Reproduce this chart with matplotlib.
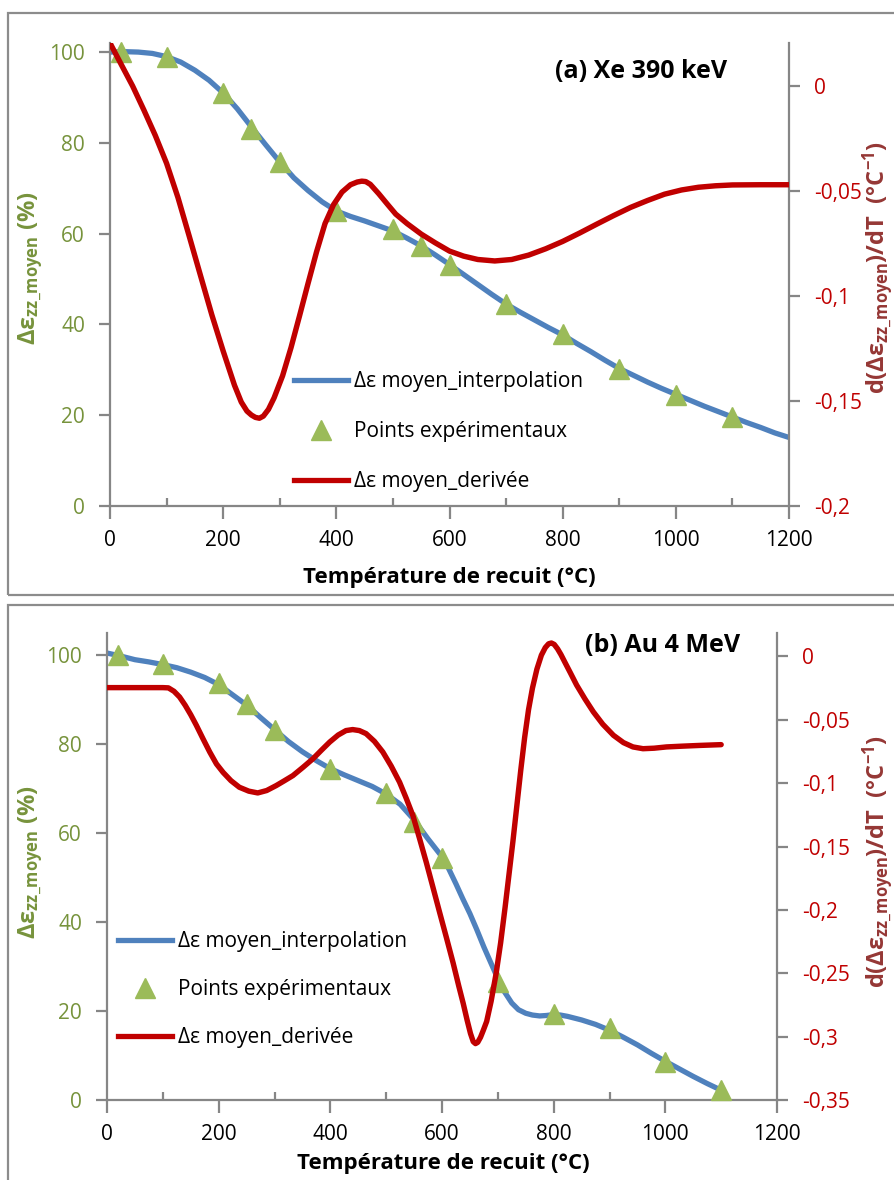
import matplotlib
matplotlib.use("Agg")
import matplotlib.pyplot as plt
from matplotlib.patches import Rectangle
from matplotlib.ticker import FixedLocator, MultipleLocator
from matplotlib.lines import Line2D

plt.rcParams['font.family'] = ['Open Sans', 'DejaVu Sans']
plt.rcParams['mathtext.fontset'] = 'custom'
plt.rcParams['mathtext.rm'] = 'Open Sans'
plt.rcParams['mathtext.bf'] = 'Open Sans:bold'
plt.rcParams['mathtext.it'] = 'Open Sans:italic'

# ---- (a) Xe 390 keV ----
T_exp_a = [20, 100, 200, 250, 300, 400, 500, 550, 600, 700, 800, 900, 1000, 1100]
eps_exp_a = [100, 99, 91, 83, 75.8, 65, 61, 57.2, 53.1, 44.4, 37.8, 30.2, 24.5, 19.7]
T_fit_a = [0, 25, 50, 75, 100, 125, 150, 175, 200, 225, 250, 275, 300, 325, 350, 375, 400,
           425, 450, 475, 500, 525, 550, 575, 600, 625, 650, 675, 700, 725, 750, 775, 800,
           825, 850, 875, 900, 925, 950, 975, 1000, 1025, 1050, 1075, 1100, 1125, 1150, 1175, 1200]
eps_fit_a = [100, 100.1, 100, 99.7, 99, 97.8, 96, 93.8, 91, 87.5, 83.5, 79.6, 75.8, 72.3, 69.5, 67, 65,
             63.8, 62.8, 61.7, 60.6, 59, 57.3, 55.3, 53.2, 51, 48.8, 46.6, 44.5, 42.7, 41, 39.3, 37.7,
             35.8, 34, 32.1, 30.3, 28.8, 27.3, 25.9, 24.6, 23.3, 22, 20.8, 19.6, 18.4, 17.3, 16.1, 15.1]
T_der_a = [0, 20, 40, 60, 80, 100, 120, 140, 160, 180, 200, 220, 232, 242, 250, 257, 264, 271,
           280, 290, 305, 320, 335, 350, 365, 380, 395, 410, 425, 437, 445, 452, 460, 475, 490,
           505, 525, 550, 575, 600, 625, 650, 680, 710, 740, 770, 800, 830, 860, 890, 920, 950,
           980, 1010, 1040, 1070, 1100, 1150, 1200]
der_a = [0.0205, 0.0102, 0.0, -0.0115, -0.0235, -0.0368, -0.053, -0.0715, -0.0903, -0.109,
         -0.1262, -0.1425, -0.1505, -0.1548, -0.1567, -0.1578, -0.1582, -0.1572, -0.154, -0.1485,
         -0.138, -0.1245, -0.1094, -0.094, -0.079, -0.0655, -0.0565, -0.0505, -0.047, -0.0457,
         -0.0453, -0.0455, -0.0468, -0.0513, -0.0562, -0.061, -0.0655, -0.0705, -0.0747, -0.0786,
         -0.081, -0.0826, -0.0833, -0.0826, -0.0805, -0.0775, -0.074, -0.070, -0.0658, -0.0617,
         -0.0578, -0.0545, -0.0515, -0.0495, -0.0482, -0.0475, -0.0471, -0.047, -0.047]

# ---- (b) Au 4 MeV ----
T_exp_b = [20, 100, 200, 250, 300, 400, 500, 550, 600, 700, 800, 900, 1000, 1100]
eps_exp_b = [100, 98, 93.7, 89, 83.2, 74.4, 69, 62.5, 54.5, 26.6, 19.3, 16.1, 8.6, 2.2]
T_fit_b = [0, 25, 50, 75, 100, 125, 150, 175, 200, 225, 250, 275, 300, 325, 350, 375, 400,
           425, 450, 475, 500, 525, 550, 575, 600, 612, 625, 637, 650, 662, 675, 688, 700,
           712, 725, 737, 750, 762, 775, 787, 800, 812, 825, 850, 875, 900, 925, 950, 975,
           1000, 1025, 1050, 1075, 1100]
eps_fit_b = [100.5, 99.8, 99.0, 98.5, 97.9, 97.2, 96.2, 95.0, 93.4, 91.1, 88.8, 86.0, 83.3,
             80.6, 78.3, 76.3, 74.5, 73.1, 71.8, 70.5, 68.8, 66.5, 63.0, 58.7, 54.7, 52.0,
             48.6, 45.3, 41.9, 38.4, 34.4, 30.7, 27.3, 24.3, 21.8, 20.3, 19.5, 19.1, 18.9,
             19.0, 19.2, 19.1, 18.8, 18.0, 17.0, 15.7, 14.1, 12.4, 10.5, 8.7, 7.0, 5.3, 3.7, 2.2]
T_der_b = [0, 100, 110, 120, 130, 140, 150, 160, 172, 184, 196, 208, 222, 237, 254, 270, 286,
           303, 318, 333, 351, 369, 384, 399, 414, 428, 440, 452, 464, 479, 494, 509, 524, 536,
           548, 560, 572, 584, 596, 608, 620, 630, 638, 645, 651, 656, 660, 664, 669, 674, 680,
           688, 697, 705, 713, 720, 727, 734, 741, 748, 755, 762, 770, 778, 785, 791, 796, 801,
           807, 813, 820, 830, 841, 856, 871, 888, 907, 925, 942, 960, 980, 1002, 1030, 1062, 1100]
der_b = [-0.0246, -0.0246, -0.0248, -0.0275, -0.032, -0.0385, -0.046, -0.0543, -0.065, -0.0754,
         -0.0848, -0.0915, -0.098, -0.1032, -0.1063, -0.1077, -0.1058, -0.1019, -0.098, -0.094,
         -0.0875, -0.0807, -0.074, -0.0675, -0.062, -0.0585, -0.0577, -0.0585, -0.0609, -0.067,
         -0.0754, -0.0865, -0.0992, -0.112, -0.1257, -0.144, -0.1627, -0.1825, -0.2024, -0.222,
         -0.242, -0.260, -0.2738, -0.287, -0.2975, -0.304, -0.3055, -0.3045, -0.3005, -0.295,
         -0.288, -0.272, -0.250, -0.226, -0.198, -0.172, -0.146, -0.118, -0.090, -0.064, -0.042,
         -0.025, -0.010, 0.001, 0.007, 0.010, 0.0106, 0.0095, 0.006, 0.0015, -0.0045, -0.013,
         -0.0225, -0.0335, -0.0437, -0.0535, -0.0622, -0.068, -0.0714, -0.0728, -0.0724, -0.0714,
         -0.0708, -0.0702, -0.0696]

x_ticks = [0, 200, 400, 600, 800, 1000, 1200]
left_ticks = [0, 20, 40, 60, 80, 100]
right_ticks_a = [0, -0.05, -0.1, -0.15, -0.2]
right_ticks_b = [0, -0.05, -0.1, -0.15, -0.2, -0.25, -0.3, -0.35]

BLUE, RED, GREEN = "#4f81bd", "#c00000", "#9bbb59"
LGREEN, DRED, GREY = "#77933c", "#953735", "#868686"
W, H = 894, 1180
FS = 15


def fx(px): return px / W
def fy(py): return 1 - py / H


def comma(v):
    s = f"{v:g}"
    return "0" if s in ("0", "-0") else s.replace(".", ",")


def panel(box, T_fit, eps_fit, T_exp, eps_exp, T_der, der, ymax, rlim, rticks, tag, tag_xy, leg_xy, lsp):
    l, t, r, b = box
    ax = fig.add_axes([fx(l), fy(b), (r - l) / W, (b - t) / H])
    ax.plot(T_fit, eps_fit, color=BLUE, lw=3.8, solid_joinstyle="round", zorder=2)
    ax.plot(T_exp, eps_exp, ls="none", marker="^", ms=15, color=GREEN, mec=GREEN, zorder=3, clip_on=False)
    ax.set_xlim(0, 1200); ax.set_ylim(0, ymax)
    ax2 = ax.twinx()
    ax2.plot(T_der, der, color=RED, lw=3.9, solid_joinstyle="round", solid_capstyle="round", zorder=4)
    ax2.set_ylim(*rlim)
    for a in (ax, ax2):
        for s in a.spines.values():
            s.set_color(GREY); s.set_linewidth(1.6)
        a.spines["top"].set_visible(False)
        a.patch.set_visible(False)
    ax.spines["right"].set_visible(False)
    ax2.spines["left"].set_visible(False); ax2.spines["bottom"].set_visible(False)
    ax.xaxis.set_major_locator(FixedLocator(x_ticks))
    ax.xaxis.set_minor_locator(MultipleLocator(100))
    ax.tick_params(axis="x", which="major", direction="out", length=9, width=1.6, color=GREY,
                   labelsize=FS, pad=8)
    ax.tick_params(axis="x", which="minor", direction="in", length=6, width=1.6, color=GREY)
    ax.set_yticks(left_ticks)
    ax.tick_params(axis="y", direction="out", length=8, width=1.6, color=GREY, labelsize=FS,
                   labelcolor=LGREEN, pad=10)
    ax2.set_yticks(rticks)
    ax2.set_yticklabels([comma(v) for v in rticks])
    ax2.tick_params(axis="y", direction="out", length=8, width=1.6, color=GREY, labelsize=FS,
                    labelcolor=RED, pad=10)
    ax.text(*tag_xy, tag, transform=fig.transFigure, ha="center", va="center",
            fontsize=18, fontweight="bold")
    handles = [Line2D([], [], color=BLUE, lw=3.8),
               Line2D([], [], ls="none", marker="^", ms=15, color=GREEN),
               Line2D([], [], color=RED, lw=3.8)]
    labels = ["\u0394\u03b5 moyen_interpolation", "Points exp\u00e9rimentaux", "\u0394\u03b5 moyen_deriv\u00e9e"]
    ax2.legend(handles, labels, loc="upper left", bbox_to_anchor=leg_xy, bbox_transform=fig.transFigure,
               frameon=False, fontsize=FS, handlelength=2.6, handletextpad=0.3, labelspacing=lsp,
               borderpad=0, borderaxespad=0)
    return ax, ax2


fig = plt.figure(figsize=(W / 100, H / 100), dpi=100)

# panel frames
fig.patches.append(Rectangle((fx(8), fy(595)), (904 - 8) / W, (595 - 13) / H, transform=fig.transFigure,
                             fill=False, ec="#8c8c8c", lw=1.6))
fig.patches.append(Rectangle((fx(8), fy(1200)), (904 - 8) / W, (1200 - 605) / H, transform=fig.transFigure,
                             fill=False, ec="#8c8c8c", lw=1.6))

panel((110, 43, 789, 506), T_fit_a, eps_fit_a, T_exp_a, eps_exp_a, T_der_a, der_a, 102, (-0.2, 0.0205),
      right_ticks_a, "(a) Xe 390 keV", (fx(641), fy(72)), (fx(294), fy(371)), 1.4)
panel((107, 633, 777, 1100), T_fit_b, eps_fit_b, T_exp_b, eps_exp_b, T_der_b, der_b, 105, (-0.35, 0.0185),
      right_ticks_b, "(b) Au 4 MeV", (fx(663), fy(645)), (fx(118), fy(931)), 1.3)

ylab = "\u0394\u03b5$_{\\mathbf{zz\\_moyen}}$ (%)"
rlab = "d(\u0394\u03b5$_{\\mathbf{zz\\_moyen}}$)/dT  (\u00b0C$^{\\mathbf{-1}}$)"
xlab = "Temp\u00e9rature de recuit (\u00b0C)"
for yc in (268, 862):
    fig.text(fx(31), fy(yc), ylab, rotation=90, ha="center", va="center", fontsize=17,
             fontweight="bold", color=LGREEN)
    fig.text(fx(878), fy(yc), rlab, rotation=90, ha="center", va="center", fontsize=17,
             fontweight="bold", color=DRED)
fig.text(fx(449), fy(578), xlab, ha="center", va="center", fontsize=16, fontweight="bold")
fig.text(fx(443), fy(1163), xlab, ha="center", va="center", fontsize=16, fontweight="bold")

fig.savefig("out.png", dpi=100)
